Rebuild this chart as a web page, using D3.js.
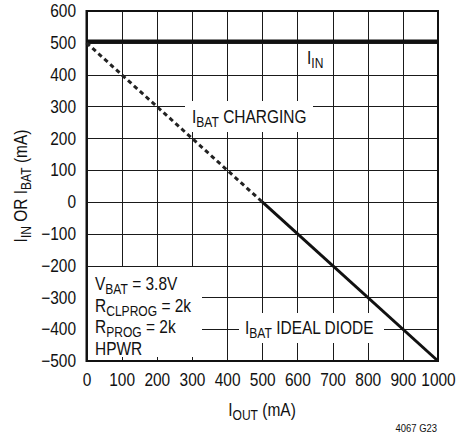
<!DOCTYPE html>
<html>
<head>
<meta charset="utf-8">
<script src="https://cdn.jsdelivr.net/npm/d3@7/dist/d3.min.js"></script>
<style>
  html, body { margin: 0; padding: 0; background: #fff; }
  svg { display: block; }
  text { font-family: "Liberation Sans", Arial, sans-serif; fill: #111; }
</style>
</head>
<body>
<svg id="chart" width="458" height="433"></svg>
<script>
// ---- data ----
const ioutIn = [0, 1000];
const iinValues = [505, 505];
const ioutCharging = [0, 500];
const ibatCharging = [500, 0];
const ioutDiode = [500, 1000];
const ibatDiode = [0, -500];
const xTicks = [0, 100, 200, 300, 400, 500, 600, 700, 800, 900, 1000];
const yTicks = [-500, -400, -300, -200, -100, 0, 100, 200, 300, 400, 500, 600];

// ---- layout ----
const SX = 0.86;       // horizontal condensing of the text
const FS = 18;
const svg = d3.select("#chart");
const L = 86.5, R = 438, T = 11, B = 361;
const x = d3.scaleLinear().domain([0, 1000]).range([L, R]);
const y = d3.scaleLinear().domain([-500, 600]).range([B, T]);

// grid
const grid = svg.append("g").attr("stroke", "#1a1a1a").attr("stroke-width", 1);
grid.selectAll("line.v").data(xTicks).join("line")
  .attr("x1", d => Math.round(x(d)) + 0.5).attr("x2", d => Math.round(x(d)) + 0.5)
  .attr("y1", T).attr("y2", B);
grid.selectAll("line.h").data(yTicks).join("line")
  .attr("y1", d => Math.round(y(d)) + 0.5).attr("y2", d => Math.round(y(d)) + 0.5)
  .attr("x1", L).attr("x2", R);

// white label boxes (interrupt grid)
const boxes = [
  [185, 101, 128, 31],
  [239, 313, 145, 30],
  [88, 267, 114, 90]
];
svg.selectAll("rect.box").data(boxes).join("rect")
  .attr("x", d => d[0]).attr("y", d => d[1]).attr("width", d => d[2]).attr("height", d => d[3])
  .attr("fill", "#fff");

// frame
svg.append("rect").attr("x", L).attr("y", T).attr("width", R - L).attr("height", B - T)
  .attr("fill", "none").attr("stroke", "#111").attr("stroke-width", 2);

// axes labels via d3 axes
const fmt = d3.format("d");
const yAxis = svg.append("g").attr("transform", `translate(${L},0)`)
  .call(d3.axisLeft(y).tickValues(yTicks).tickSize(0).tickPadding(10).tickFormat(d => fmt(d)));
const xAxis = svg.append("g").attr("transform", `translate(0,${B})`)
  .call(d3.axisBottom(x).tickValues(xTicks).tickSize(0).tickPadding(12).tickFormat(d => fmt(d)));
[yAxis, xAxis].forEach(a => {
  a.select(".domain").remove();
  a.selectAll("text").attr("font-size", FS).attr("font-family", "Liberation Sans, Arial, sans-serif")
    .attr("fill", "#111").attr("transform", `scale(${SX},1)`);
});
yAxis.selectAll("text").attr("x", -10.5 / SX);

// data lines
const line = d3.line().x(d => x(d[0])).y(d => y(d[1]));
svg.append("path").datum(d3.zip(ioutIn, iinValues)).attr("d", line)
  .attr("fill", "none").attr("stroke", "#111").attr("stroke-width", 3.5);
svg.append("path").datum(d3.zip(ioutCharging, ibatCharging)).attr("d", line)
  .attr("fill", "none").attr("stroke", "#222").attr("stroke-width", 3).attr("stroke-dasharray", "4.5,3.5");
svg.append("path").datum(d3.zip(ioutDiode, ibatDiode)).attr("d", line)
  .attr("fill", "none").attr("stroke", "#111").attr("stroke-width", 3);

// text helper with subscript (condensed via horizontal scale)
function label(parent, xp, yp, parts, size, anchor, extra) {
  const g = parent.append("g").attr("transform", `translate(${xp},${yp})${extra || ""} scale(${SX},1)`);
  const t = g.append("text").attr("x", 0).attr("y", 0).attr("font-size", size)
    .attr("text-anchor", anchor || "start");
  parts.forEach(p => {
    if (p.sub) {
      t.append("tspan").text(p.t).attr("font-size", size * 0.78).attr("dy", 3.5);
    } else {
      t.append("tspan").text(p.t).attr("dy", p.after ? -3.5 : 0);
    }
  });
  return t;
}
const g = svg.append("g");
label(g, 307, 64, [{t: "I"}, {t: "IN", sub: true}], FS);
label(g, 192, 123, [{t: "I"}, {t: "BAT", sub: true}, {t: " CHARGING", after: true}], FS);
label(g, 245, 334, [{t: "I"}, {t: "BAT", sub: true}, {t: " IDEAL DIODE", after: true}], FS);
label(g, 95, 290, [{t: "V"}, {t: "BAT", sub: true}, {t: " = 3.8V", after: true}], FS);
label(g, 95, 312, [{t: "R"}, {t: "CLPROG", sub: true}, {t: " = 2k", after: true}], FS);
label(g, 95, 333, [{t: "R"}, {t: "PROG", sub: true}, {t: " = 2k", after: true}], FS);
label(g, 95, 355, [{t: "HPWR"}], FS);

// axis titles
label(g, 262, 416, [{t: "I"}, {t: "OUT", sub: true}, {t: " (mA)", after: true}], FS, "middle");
label(g, 27, 186, [{t: "I"}, {t: "IN", sub: true}, {t: " OR I", after: true}, {t: "BAT", sub: true}, {t: " (mA)", after: true}], FS, "middle", " rotate(-90)");

label(g, 437, 432, [{t: "4067 G23"}], 11, "end");
</script>
</body>
</html>
